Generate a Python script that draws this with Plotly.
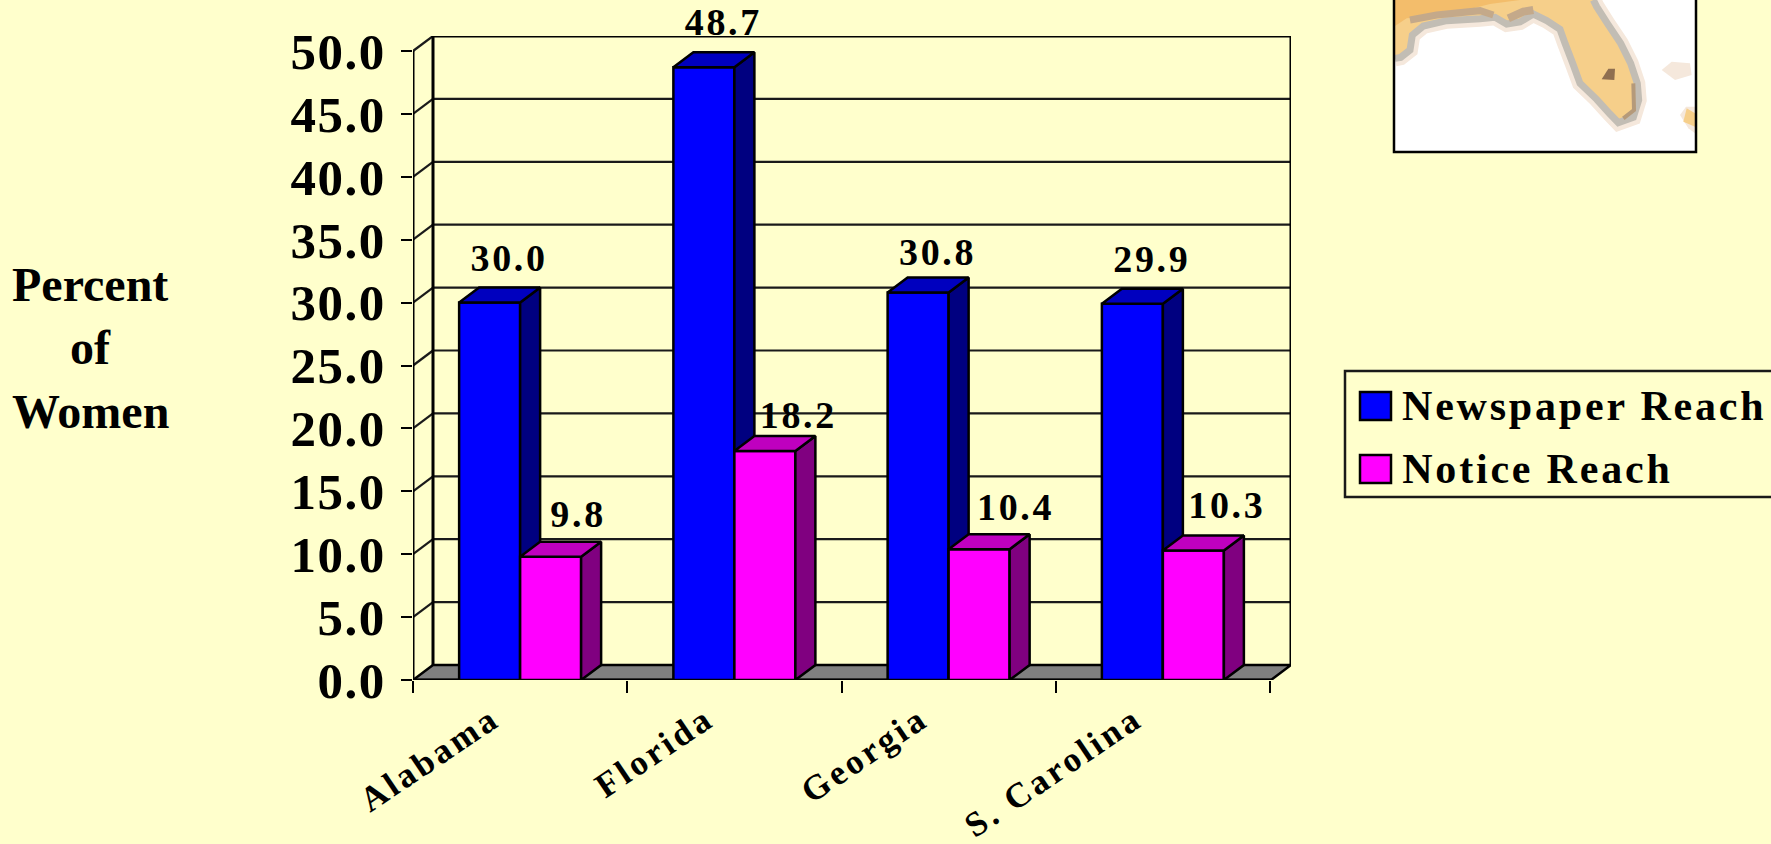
import plotly.graph_objects as go

# Survey results by state
states = ["Alabama", "Florida", "Georgia", "S. Carolina"]
newspaper_reach = [30.0, 48.7, 30.8, 29.9]
notice_reach = [9.8, 18.2, 10.4, 10.3]
y_ticks = [0, 5, 10, 15, 20, 25, 30, 35, 40, 45, 50]

BG = "#FFFFCC"
SERIF = "Liberation Serif"

# Plot frame in page pixels and the oblique depth of the 3-D box
LEFT, RIGHT, BOTTOM, TOP = 413, 1291, 680, 36
PX_PER_STATE, PX_PER_UNIT = 214.25, 12.58
DX, DY = 20 / PX_PER_STATE, 15 / PX_PER_UNIT
X_MAX = (RIGHT - LEFT) / PX_PER_STATE
Y_MAX = (BOTTOM - TOP) / PX_PER_UNIT
BAR_W = 61 / PX_PER_STATE
N = len(states)
LEGEND_TRACKING = 2.8

# Hand placement of value labels, in pixels (right, down), so they clear the grid lines
newspaper_label_nudge = [(0, 0), (0, 0), (0, 5), (0, 0)]
notice_label_nudge = [(-6, 2), (0, 9), (3, 3), (0, 0)]


def px(x):
    return (x - LEFT) / (RIGHT - LEFT)


def py(y):
    return (BOTTOM - y) / (BOTTOM - TOP)


def segs(pairs):
    xs, ys = [], []
    for (x0, y0), (x1, y1) in pairs:
        xs += [x0, x1, None]
        ys += [y0, y1, None]
    return xs, ys


def polys(items):
    xs, ys = [], []
    for pts in items:
        xs += [p[0] for p in pts] + [pts[0][0], None]
        ys += [p[1] for p in pts] + [pts[0][1], None]
    return xs, ys


def line_trace(pairs, width, color="#000000", axis="x"):
    xs, ys = segs(pairs)
    return go.Scatter(x=xs, y=ys, mode="lines", xaxis=axis, yaxis="y", hoverinfo="skip",
                      line=dict(color=color, width=width), cliponaxis=False, showlegend=False)


def face_trace(items, color, axis):
    xs, ys = polys(items)
    return go.Scatter(x=xs, y=ys, mode="lines", fill="toself", fillcolor=color, xaxis=axis, yaxis="y",
                      hoverinfo="skip", line=dict(color="#000000", width=2.5),
                      cliponaxis=False, showlegend=False)


def series(values, lefts, name, front, top, side, axis, label_shift, nudges):
    rights = [x + BAR_W for x in lefts]
    out = [go.Bar(x=[x + BAR_W / 2 for x in lefts], y=values, width=BAR_W, name=name, xaxis=axis, yaxis="y",
                  marker=dict(color=front, line=dict(color="#000000", width=2.5)),
                  cliponaxis=False, showlegend=False)]
    out.append(face_trace([[(r, 0), (r + DX, DY), (r + DX, v + DY), (r, v)]
                           for r, v in zip(rights, values)], side, axis))
    out.append(face_trace([[(l, v), (r, v), (r + DX, v + DY), (l + DX, v + DY)]
                           for l, r, v in zip(lefts, rights, values)], top, axis))
    out.append(go.Scatter(x=[x + label_shift + n[0] / PX_PER_STATE for x, n in zip(lefts, nudges)],
                          y=[v + DY + 0.6 - n[1] / PX_PER_UNIT for v, n in zip(values, nudges)],
                          text=[f"{v:.1f}" for v in values], mode="text", textposition="top center",
                          textfont=dict(family=SERIF, size=38, color="#000000", weight="bold"),
                          xaxis=axis, yaxis="y", cliponaxis=False, hoverinfo="skip", showlegend=False))
    return out


fig = go.Figure()

# Box floor, walls and value grid
floor = [[(0, 0), (DX, DY), (X_MAX, DY), (X_MAX - DX, 0)]]
xs, ys = polys(floor)
fig.add_trace(go.Scatter(x=xs, y=ys, mode="lines", fill="toself", fillcolor="#808080", hoverinfo="skip",
                         line=dict(color="#000000", width=2.5), cliponaxis=False, showlegend=False))
fig.add_trace(line_trace([((0, v), (DX, v + DY)) for v in y_ticks[1:]]
                         + [((DX, v + DY), (X_MAX, v + DY)) for v in y_ticks[1:]], 2.2, "#1a1a1a"))
fig.add_trace(line_trace([((0, 0), (0, 50)), ((DX, DY), (DX, 50 + DY)), ((X_MAX, DY), (X_MAX, 50 + DY)),
                          ((DX, 50 + DY), (X_MAX, 50 + DY)), ((0, 0), (X_MAX - DX, 0))], 3))

# Blue bars sit on their own overlaid axis so the magenta bars draw in front of them
left_blue = [i + (1 - 2 * BAR_W) / 2 for i in range(N)]
left_pink = [x + BAR_W for x in left_blue]
for tr in series(newspaper_reach, left_blue, "Newspaper Reach", "#0000FF", "#0000BF", "#000080", "x2",
                 50 / PX_PER_STATE, newspaper_label_nudge):
    fig.add_trace(tr)
for tr in series(notice_reach, left_pink, "Notice Reach", "#FF00FF", "#BF00BF", "#800080", "x3",
                 64 / PX_PER_STATE, notice_label_nudge):
    fig.add_trace(tr)


def rect(x0, y0, x1, y1, fill, lw=2.5, lc="#000000"):
    return dict(type="rect", xref="paper", yref="paper", x0=px(x0), x1=px(x1), y0=py(y0), y1=py(y1),
                fillcolor=fill, line=dict(color=lc, width=lw), layer="above")


def outline(points, closed=False):
    d = "M" + " L".join(f"{px(x):.5f},{py(y):.5f}" for x, y in points)
    return d + (" Z" if closed else "")


def path(points, fill=None, lw=0, lc="rgba(0,0,0,0)", closed=True):
    return dict(type="path", xref="paper", yref="paper", path=outline(points, closed),
                fillcolor=fill or "rgba(0,0,0,0)", line=dict(color=lc, width=lw), layer="above")


def inset(x, y):
    return (1380 + x / 3, y / 3)


# Locator map of the Florida peninsula
coast = [inset(*p) for p in [
    (45, 175), (62, 172), (90, 150), (97, 105), (130, 78), (200, 62), (300, 56), (345, 52), (380, 72),
    (420, 66), (460, 42), (500, 62), (540, 88), (555, 130), (578, 190), (600, 250), (650, 298), (690, 342),
    (715, 368), (760, 352), (776, 300), (772, 250), (752, 190), (722, 130), (682, 70), (650, 20), (640, 0)]]
corners = [inset(45, 0)]
band = [inset(*p) for p in [(45, 0), (45, 78), (80, 55), (150, 48), (220, 40), (330, 12), (420, 0)]]
lake = [inset(*p) for p in [(665, 238), (685, 206), (705, 206), (703, 240)]]
marsh = [inset(*p) for p in [(90, 60), (170, 45), (300, 32), (340, 45)]]
marsh2 = [inset(*p) for p in [(385, 55), (430, 35), (460, 30)]]
marsh3 = [inset(*p) for p in [(760, 250), (762, 330), (730, 355)]]
isle_a = [inset(*p) for p in [(845, 210), (875, 185), (930, 190), (935, 225), (885, 240)]]
isle_b = [inset(*p) for p in [(900, 345), (918, 320), (945, 320), (945, 400), (925, 385)]]
isle_c = [inset(*p) for p in [(910, 365), (920, 325), (945, 340), (945, 380)]]

shapes = [
    rect(1394, -5, 1696, 152, "#FFFFFF", 0),
    path(isle_a, "#F5E8DC"), path(isle_b, "#F5E8DC"), path(isle_c, "#F6CF8A"),
    path(coast, None, 16, "#F5E8DC", closed=False),
    path(coast + corners, "#F6CF8A"),
    path(coast, None, 7, "#C2BDB4", closed=False),
    path(band, "#F3BD6B"),
    path(lake, "#8F6F50"),
    path(marsh, None, 7, "#C4A98A", closed=False),
    path(marsh2, None, 8, "#C4A98A", closed=False),
    path(marsh3, None, 4, "#B59A7A", closed=False),
    rect(1394, -5, 1696, 152, "rgba(0,0,0,0)", 2.5),
    # Legend panel, running off the right edge of the page
    rect(1345, 371, 1790, 497, BG, 2.5, "#1a1a1a"),
    rect(1360, 392, 1391, 420, "#0000FF", 2.5),
    rect(1360, 455, 1391, 483, "#FF00FF", 2.5),
]

annotations = []
for text, cy in [("Percent", 284), ("of", 347), ("Women", 411)]:
    annotations.append(dict(text=text, x=px(90), y=py(cy), xref="paper", yref="paper", xanchor="center",
                            yanchor="middle", showarrow=False,
                            font=dict(family=SERIF, size=48, color="#000000", weight="bold")))
for text, cy in [("Newspaper Reach", 406), ("Notice Reach", 469)]:
    # Tracking is applied after layout and spreads from the text's centre
    annotations.append(dict(text=text, x=px(1400 + len(text) * LEGEND_TRACKING / 2), y=py(cy), xref="paper",
                            yref="paper", xanchor="left", yanchor="middle", showarrow=False,
                            font=dict(family=SERIF, size=42, color="#000000", weight="bold")))

axis_common = dict(range=[0, X_MAX], showgrid=False, zeroline=False, showline=False, domain=[0, 1],
                   automargin=False)
fig.update_layout(
    width=1771, height=844, autosize=False, paper_bgcolor=BG, plot_bgcolor=BG, barmode="overlay",
    margin=dict(l=LEFT, r=1771 - RIGHT, t=TOP, b=844 - BOTTOM, pad=0, autoexpand=False),
    shapes=shapes, annotations=annotations, showlegend=False,
    xaxis=dict(**axis_common, tickvals=list(range(N + 1)), ticks="outside", ticklen=12, tickwidth=2,
               tickcolor="#000000", showticklabels=False),
    xaxis2=dict(**axis_common, overlaying="x", anchor="y", side="bottom", ticks="",
                tickvals=[i + 0.5 - 28 / PX_PER_STATE for i in range(N)], ticktext=states, tickangle=-34,
                ticklabelstandoff=11, tickfont=dict(family=SERIF, size=35, color="#000000", weight="bold")),
    xaxis3=dict(**axis_common, overlaying="x", anchor="y", visible=False),
    yaxis=dict(range=[0, Y_MAX], domain=[0, 1], showgrid=False, zeroline=False, showline=False, automargin=False,
               tickvals=y_ticks, ticktext=[f"{v:.1f}" for v in y_ticks], ticks="outside", ticklen=11,
               tickwidth=2, tickcolor="#000000", ticklabelstandoff=5,
               tickfont=dict(family=SERIF, size=51, color="#000000", weight="bold")),
)

# Tracked-out type used throughout the chart
tracking = """
var s = document.createElement('style');
s.textContent = '.ytick text{letter-spacing:1.5px}'
  + '.x2tick text{letter-spacing:3.3px}'
  + '.textpoint text{letter-spacing:2.7px}'
  + '.annotation[data-index="3"] text,.annotation[data-index="4"] text{letter-spacing:%spx}';
document.head.appendChild(s);
""" % LEGEND_TRACKING
fig.write_html("out.html", post_script=tracking)
